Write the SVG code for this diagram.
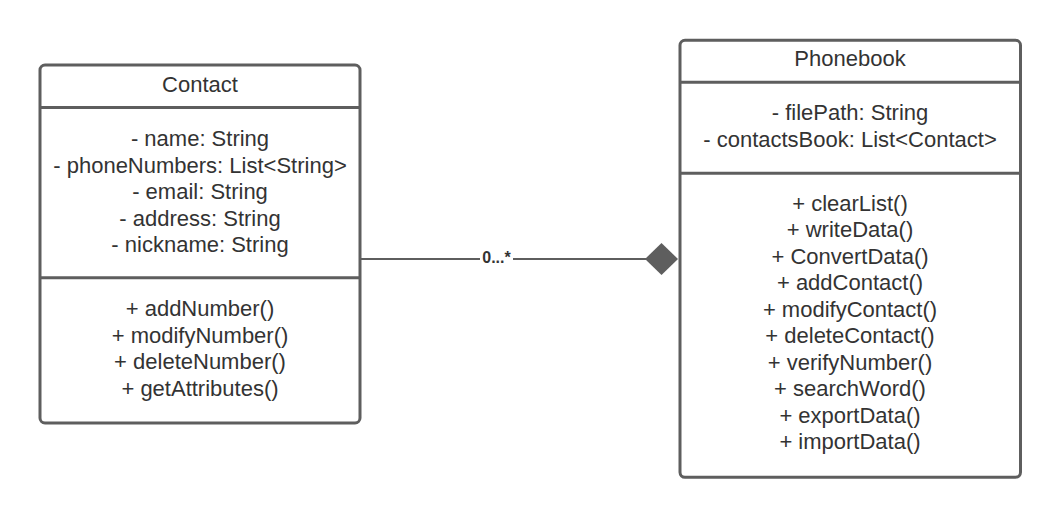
<svg xmlns="http://www.w3.org/2000/svg" width="1060" height="518" viewBox="0 0 1060 518">
<style>
.box{fill:#ffffff;stroke:#5e5e5e;stroke-width:3}
.div{stroke:#5e5e5e;stroke-width:3;fill:none}
.t{font-family:"Liberation Sans",Arial,sans-serif;font-size:22px;fill:#333333;text-anchor:middle}
.conn{stroke:#5e5e5e;stroke-width:2;fill:none}
.lbl{font-family:"Liberation Sans",Arial,sans-serif;font-size:16px;font-weight:bold;fill:#333333;text-anchor:middle}
</style>
<rect width="1060" height="518" fill="#ffffff"/>
<g id="connectors">
<line class="conn" x1="360" y1="259" x2="646" y2="259"/>
<polygon points="645,259 661.5,243 678,259 661.5,275" fill="#5e5e5e"/>
<rect x="480" y="249" width="33" height="17" fill="#ffffff"/>
<text class="lbl" x="496.5" y="262.5">0...*</text>
</g>
<g id="contact">
<rect class="box" x="40" y="65" width="320" height="358" rx="5"/>
<line class="div" x1="40" y1="107.5" x2="360" y2="107.5"/>
<line class="div" x1="40" y1="277.7" x2="360" y2="277.7"/>
<text class="t" x="200" y="91.5">Contact</text>
<text class="t" x="200" y="146">- name: String</text>
<text class="t" x="200" y="172.6">- phoneNumbers: List&lt;String&gt;</text>
<text class="t" x="200" y="199.2">- email: String</text>
<text class="t" x="200" y="225.8">- address: String</text>
<text class="t" x="200" y="252.4">- nickname: String</text>
<text class="t" x="200" y="316">+ addNumber()</text>
<text class="t" x="200" y="342.6">+ modifyNumber()</text>
<text class="t" x="200" y="369.2">+ deleteNumber()</text>
<text class="t" x="200" y="395.8">+ getAttributes()</text>
</g>
<g id="phonebook">
<rect class="box" x="680" y="40.3" width="340.5" height="437" rx="5"/>
<line class="div" x1="680" y1="82.3" x2="1020.5" y2="82.3"/>
<line class="div" x1="680" y1="173.3" x2="1020.5" y2="173.3"/>
<text class="t" x="850" y="65.7">Phonebook</text>
<text class="t" x="850" y="120">- filePath: String</text>
<text class="t" x="850" y="146.6">- contactsBook: List&lt;Contact&gt;</text>
<text class="t" x="850" y="210.7">+ clearList()</text>
<text class="t" x="850" y="237.2">+ writeData()</text>
<text class="t" x="850" y="263.7">+ ConvertData()</text>
<text class="t" x="850" y="290.2">+ addContact()</text>
<text class="t" x="850" y="316.7">+ modifyContact()</text>
<text class="t" x="850" y="343.2">+ deleteContact()</text>
<text class="t" x="850" y="369.7">+ verifyNumber()</text>
<text class="t" x="850" y="396.2">+ searchWord()</text>
<text class="t" x="850" y="422.7">+ exportData()</text>
<text class="t" x="850" y="449.2">+ importData()</text>
</g>
</svg>
